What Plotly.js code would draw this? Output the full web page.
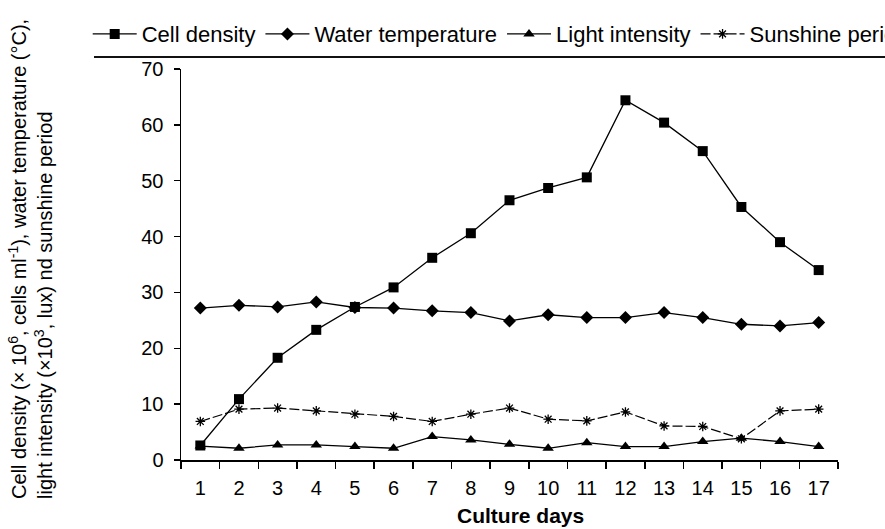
<!DOCTYPE html>
<html>
<head>
<meta charset="utf-8">
<script src="https://cdn.plot.ly/plotly-3.0.1.min.js"></script>
<style>html,body{margin:0;padding:0;background:#fff;}#chart{width:885px;height:529px;}</style>
</head>
<body>
<div id="chart"></div>
<script>
var days = ["1","2","3","4","5","6","7","8","9","10","11","12","13","14","15","16","17"];
var cellDensity = [2.6, 10.9, 18.3, 23.3, 27.4, 30.9, 36.2, 40.6, 46.5, 48.7, 50.6, 64.4, 60.4, 55.3, 45.3, 39.0, 34.0];
var waterTemp = [27.2, 27.7, 27.4, 28.3, 27.3, 27.2, 26.7, 26.4, 24.9, 26.0, 25.5, 25.5, 26.4, 25.5, 24.3, 24.0, 24.6];
var lightIntensity = [2.5, 2.1, 2.7, 2.7, 2.4, 2.1, 4.2, 3.6, 2.8, 2.1, 3.1, 2.4, 2.4, 3.3, 3.9, 3.3, 2.4];
var sunshine = [6.9, 9.1, 9.3, 8.8, 8.2, 7.8, 6.9, 8.2, 9.3, 7.3, 7.0, 8.6, 6.1, 6.0, 3.8, 8.8, 9.1];
var yTicks = [0, 10, 20, 30, 40, 50, 60, 70];

var FONT = "Liberation Sans, Arial, sans-serif";

var traces = [
  {x: days, y: cellDensity, name: "Cell density", type: "scatter", mode: "lines+markers",
   line: {color: "#000", width: 1.3}, marker: {symbol: "square", size: 10, color: "#000"}},
  {x: days, y: waterTemp, name: "Water temperature", type: "scatter", mode: "lines+markers",
   line: {color: "#000", width: 1.3}, marker: {symbol: "diamond", size: 10, color: "#000"}},
  {x: days, y: lightIntensity, name: "Light intensity", type: "scatter", mode: "lines+markers",
   line: {color: "#000", width: 1.3}, marker: {symbol: "triangle-up", size: 10, color: "#000"}},
  {x: days, y: sunshine, name: "Sunshine period", type: "scatter", mode: "lines+markers",
   line: {color: "#000", width: 1.2, dash: "10px,3px"},
   marker: {symbol: "asterisk-open", size: 8, color: "#000", line: {color: "#000", width: 1.3}}}
];

var layout = {
  width: 885, height: 529,
  paper_bgcolor: "#fff", plot_bgcolor: "#fff",
  margin: {l: 181, r: 47, t: 69, b: 69, autoexpand: false},
  font: {family: FONT, size: 20, color: "#000"},
  showlegend: true,
  legend: {
    orientation: "h", x: -0.142, xanchor: "left", y: 1.143, yanchor: "top",
    font: {family: FONT, size: 22, color: "#000"}, bgcolor: "rgba(0,0,0,0)",
    borderwidth: 0, tracegroupgap: 0, itemwidth: 44
  },
  xaxis: {
    type: "category", range: [-0.5, 16.5], tickson: "boundaries",
    showline: true, linecolor: "#000", linewidth: 1.5, showgrid: false, zeroline: false,
    ticks: "outside", ticklen: 7, tickwidth: 1.5, tickcolor: "#000",
    tickfont: {family: FONT, size: 20, color: "#000"}, ticklabelstandoff: 9
  },
  yaxis: {
    range: [0, 70], tickvals: yTicks, ticktext: yTicks.map(String),
    showline: true, linecolor: "#000", linewidth: 1.5, showgrid: false, zeroline: false,
    ticks: "outside", ticklen: 6, tickwidth: 1.5, tickcolor: "#000",
    tickfont: {family: FONT, size: 20, color: "#000"}, ticklabelstandoff: 6
  },
  shapes: [
    {type: "line", xref: "paper", yref: "paper", x0: -0.1324, x1: 1.08, y0: 1.0307, y1: 1.0307,
     line: {color: "#111", width: 2}}
  ],
  annotations: [
    {text: "Culture days", xref: "paper", yref: "paper", x: 0.516, y: -0.1407,
     xanchor: "center", yanchor: "middle", showarrow: false,
     font: {family: FONT, size: 21, color: "#000", weight: "bold"}},
    {text: "Cell density (× 10<sup>6</sup>, cells ml<sup>-1</sup>), water temperature (°C),<br>light intensity (×10<sup>3</sup>, lux) nd sunshine period",
     xref: "paper", yref: "paper", x: -0.23, y: 0.514, xanchor: "center", yanchor: "middle",
     textangle: -90, align: "left", showarrow: false,
     font: {family: FONT, size: 20, color: "#000"}}
  ]
};

Plotly.newPlot("chart", traces, layout, {displayModeBar: false, staticPlot: true});
</script>
</body>
</html>
